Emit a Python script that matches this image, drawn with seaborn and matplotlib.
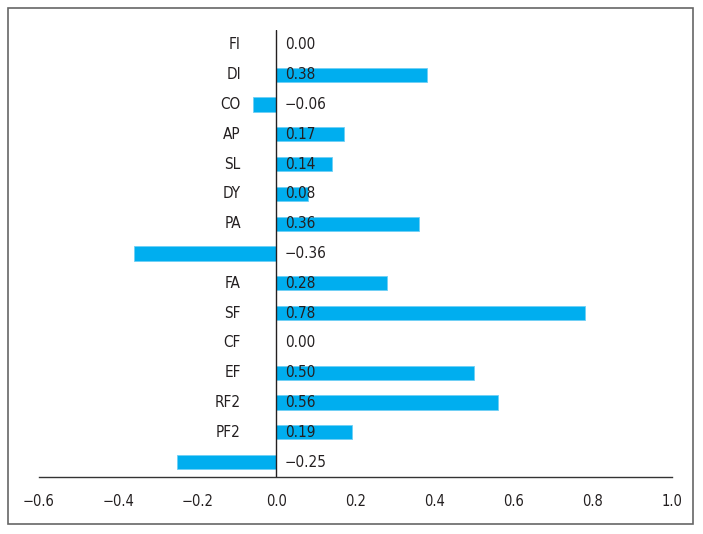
import matplotlib
matplotlib.use("Agg")
import matplotlib.pyplot as plt
import seaborn as sns
import pandas as pd
from matplotlib.patches import Rectangle

labels = ["FI", "DI", "CO", "AP", "SL", "DY", "PA", "", "FA", "SF", "CF", "EF", "RF2", "PF2", ""]
values = [0.00, 0.38, -0.06, 0.17, 0.14, 0.08, 0.36, -0.36, 0.28, 0.78, 0.00, 0.50, 0.56, 0.19, -0.25]
xticks = [-0.6, -0.4, -0.2, 0.0, 0.2, 0.4, 0.6, 0.8, 1.0]

sns.set_style("white")
plt.rcParams['font.family'] = ['DejaVu Sans']
plt.rcParams['font.stretch'] = 'condensed'

rows = [f"r{i}" for i in range(len(labels))]
df = pd.DataFrame({"row": rows, "value": values})

fig = plt.figure(figsize=(7.03, 5.34), dpi=100)
ax = fig.add_axes([39/703, 1-477/534, (672-39)/703, (477-30)/534])

sns.barplot(data=df, y="row", x="value", order=rows, orient="h",
            color="#00AEEF", saturation=1, width=0.47, ax=ax,
            edgecolor="#6fd0f5", linewidth=0.6)

txtc = "#231f20"
for i, (lab, v) in enumerate(zip(labels, values)):
    ax.text(-0.09, i, lab, ha="right", va="center", fontsize=11, color=txtc)
    s = f"{v:.2f}".replace("-", "\u2212")
    ax.text(0.022, i, s, ha="left", va="center", fontsize=11, color=txtc)

ax.set_xlim(-0.6, 1.0)
ax.set_ylim(len(labels)-0.5, -0.5)
ax.set_xticks(xticks)
ax.set_xticklabels([f"{t:.1f}".replace("-", "\u2212") for t in xticks], fontsize=10.5, color=txtc)
ax.set_yticks([])
ax.set_xlabel("")
ax.set_ylabel("")
for s in ["left", "right", "top"]:
    ax.spines[s].set_visible(False)
ax.spines["bottom"].set_color("#333333")
ax.spines["bottom"].set_linewidth(1.0)
ax.tick_params(axis="x", direction="out", length=5, width=1, color="#333333", pad=7)
ax.axvline(0, color="#231f20", linewidth=1.0, zorder=3)

fig.patches.append(Rectangle((8/703, 1-524/534), (693-8)/703, (524-8)/534,
                             transform=fig.transFigure, fill=False,
                             edgecolor="#666666", linewidth=1.2))

fig.savefig("out.png", dpi=100)
